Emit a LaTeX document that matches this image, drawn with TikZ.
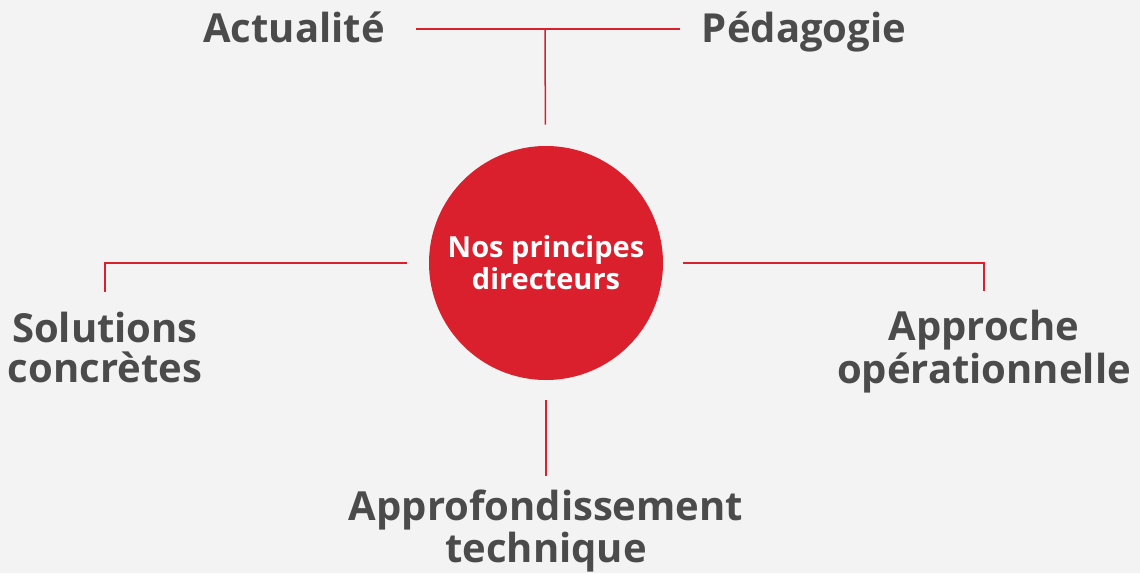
\documentclass[tikz,border=0pt]{standalone}
\usepackage{fontspec}
\setmainfont{Open Sans}
\usepackage{xcolor}
\usetikzlibrary{positioning}
\definecolor{rouge}{HTML}{D9202C}
\definecolor{gristexte}{HTML}{4B4B4B}
\definecolor{fond}{HTML}{F3F3F3}
\tikzset{
  principe/.style={text=gristexte,font=\bfseries\fontsize{20}{19.75}\selectfont,
    align=center,inner sep=0pt,anchor=base},
  lien/.style={draw=rouge,line width=0.75pt},
}

\begin{document}
\begin{tikzpicture}[x=0.5pt,y=-0.5pt]
    \fill[fond] (0,0) rectangle (1140,573);
    \useasboundingbox (0,0) rectangle (1140,573);
    \node[circle,fill=rouge,minimum size=117pt,inner sep=0pt,text=white,
      font=\bfseries\fontsize{14.5}{16}\selectfont,align=center] (centre) at (546,263)
      {Nos principes\\directeurs};
    \node[principe] (actualite) at (294,42) {Actualité};
    \node[principe] (pedagogie) at (804,42) {Pédagogie};
    \node[principe] (solutions) at (105,382) {Solutions\\concrètes};
    \node[principe] (approche) at (984,383) {Approche\\opérationnelle};
    \node[principe] (approfondissement) at (546,562) {Approfondissement\\technique};
    \coordinate (jonction) at (545,29);
    \draw[lien,shorten <=15.5pt,shorten >=11pt] (actualite.east |- jonction) -- (pedagogie.west |- jonction);
    \draw[lien,shorten >=10.5pt] (jonction) -- (centre);
    \draw[lien,shorten <=11pt,shorten >=10pt] (centre.west) -- (centre.west -| solutions.north) -- (solutions.north);
    \draw[lien,shorten <=10pt,shorten >=9.5pt] (centre.east) -- (centre.east -| approche.north) -- (approche.north);
    \draw[lien,shorten <=10pt,shorten >=6.5pt] (centre.south) -- (approfondissement.north);
  \end{tikzpicture}
\end{document}
